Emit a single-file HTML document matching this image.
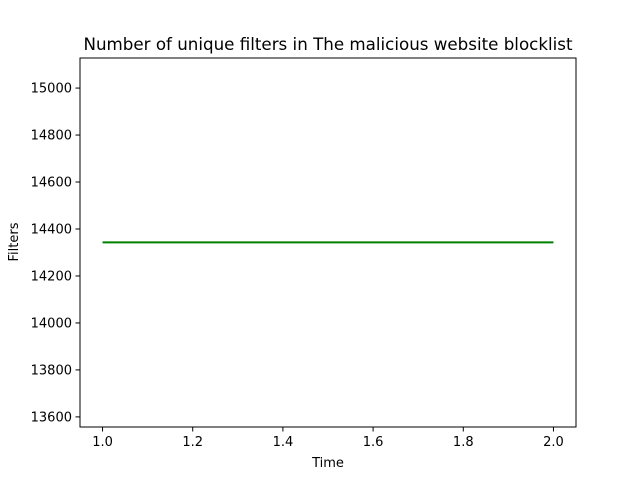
<!DOCTYPE html>
<html><head><meta charset="utf-8"><style>
body{margin:0;background:#fff}
svg{display:block;font-family:"DejaVu Sans","Liberation Sans",sans-serif}
</style></head><body>
<svg id="c" width="640" height="480" viewBox="0 0 640 480">
<rect width="640" height="480" fill="#fff"/>
<text x="328" y="50" text-anchor="middle" font-size="16.7">Number of unique filters in The malicious website blocklist</text>
<g id="ticks"></g>
<path id="line" fill="none" stroke="#008000" stroke-width="2"/>
<rect x="80" y="58" width="496" height="369" fill="none" stroke="#000" stroke-width="1"/>
<text x="328" y="467" text-anchor="middle" font-size="13">Time</text>
<text transform="translate(18,242) rotate(-90)" text-anchor="middle" font-size="13">Filters</text>
</svg>
<script>
const xValues = [1.0, 2.0];
const yValues = [14343, 14343];
const xTicks = [1.0, 1.2, 1.4, 1.6, 1.8, 2.0];
const yTicks = [13600, 13800, 14000, 14200, 14400, 14600, 14800, 15000];
const xDomain = [0.95, 2.05];
const yDomain = [13557, 15128];
function sx(v){return 80 + (v - xDomain[0]) / (xDomain[1] - xDomain[0]) * 496;}
function sy(v){return 427 - (v - yDomain[0]) / (yDomain[1] - yDomain[0]) * 369;}
const ns = "http://www.w3.org/2000/svg";
const g = document.getElementById('ticks');
xTicks.forEach(t => {
  const x = sx(t);
  const l = document.createElementNS(ns, 'line');
  l.setAttribute('x1', x); l.setAttribute('x2', x); l.setAttribute('y1', 427); l.setAttribute('y2', 431.5);
  l.setAttribute('stroke', '#000');
  
  
  g.appendChild(l);
  const tx = document.createElementNS(ns, 'text');
  tx.setAttribute('x', x); tx.setAttribute('y', 446); tx.setAttribute('text-anchor', 'middle'); tx.setAttribute('font-size', '13');
  tx.textContent = t.toFixed(1);
  
  
  g.appendChild(tx);
});
yTicks.forEach(t => {
  const y = sy(t);
  const l = document.createElementNS(ns, 'line');
  l.setAttribute('x1', 75.5); l.setAttribute('x2', 80); l.setAttribute('y1', y); l.setAttribute('y2', y);
  l.setAttribute('stroke', '#000');
  
  
  g.appendChild(l);
  const tx = document.createElementNS(ns, 'text');
  tx.setAttribute('x', 72); tx.setAttribute('y', y + 4.5); tx.setAttribute('text-anchor', 'end'); tx.setAttribute('font-size', '13');
  tx.textContent = t;
  
  
  g.appendChild(tx);
});
document.getElementById('line').setAttribute('d', xValues.map((v, i) => (i ? 'L' : 'M') + sx(v) + ',' + sy(yValues[i])).join(' '));
</script>
</body></html>
